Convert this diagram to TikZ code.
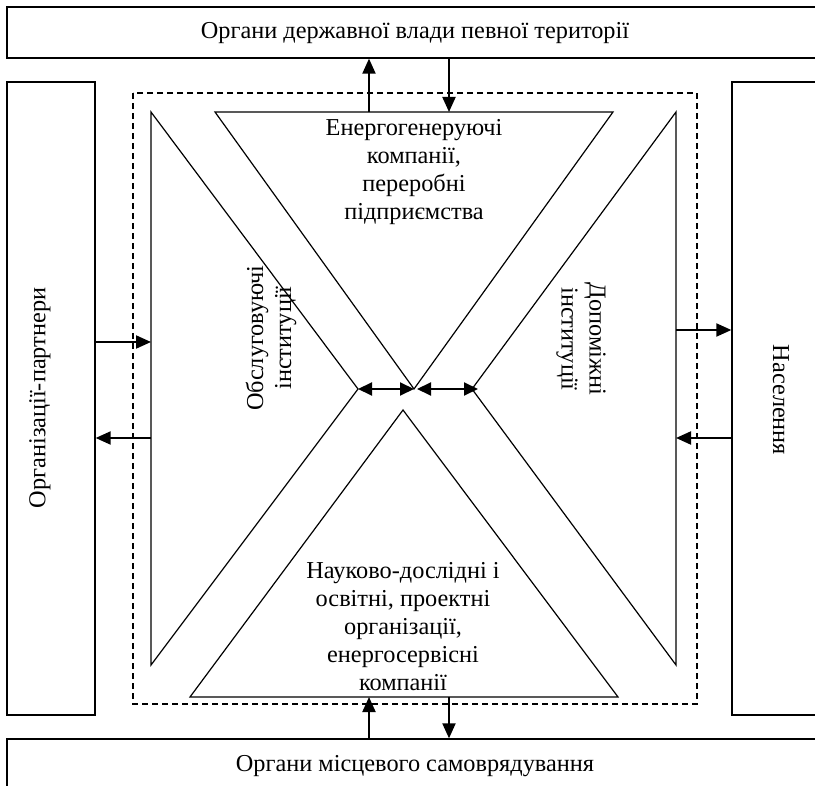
\documentclass[tikz,border=0pt]{standalone}
\usepackage{fontspec}
\setmainfont{Liberation Serif}
\usetikzlibrary{arrows.meta}
\begin{document}
\begin{tikzpicture}[x=1pt,y=-1pt]
\tikzset{
  frame/.style={draw,line width=1.3pt,inner sep=0pt},
  lbl/.style={font=\fontsize{24.3}{28}\selectfont, align=center, inner sep=0pt},
  tri/.style={draw,line width=1.2pt,line join=miter},
  conn/.style={line width=2pt,-{Triangle[length=15pt,width=13pt]}},
  bconn/.style={line width=2pt,{Triangle[length=14pt,width=13pt]}-{Triangle[length=14pt,width=13pt]}},
  dashbox/.style={draw,line width=1.3pt,dash pattern=on 6pt off 4pt}
}
\useasboundingbox (0,0) rectangle (815,786);
\clip (0,0) rectangle (815,786);
\fill[white] (0,0) rectangle (815,786);

% outer boxes
\node[frame,minimum width=816pt,minimum height=51pt] (topbox) at (415,32.5) {};
\node[lbl] (toptext) at (415,33) {Органи державної влади певної території};
\node[frame,minimum width=88pt,minimum height=633pt] (leftbox) at (51,398.5) {};
\node[lbl,rotate=90] (lefttext) at (40,398) {Організації-партнери};
\node[frame,minimum width=100pt,minimum height=633pt] (rightbox) at (782,398.5) {};
\node[lbl,rotate=-90] (righttext) at (781,400) {Населення};
\node[frame,minimum width=816pt,minimum height=60pt] (botbox) at (415,769) {};
\node[lbl] (bottext) at (415,766) {Органи місцевого самоврядування};

% dashed frame
\draw[dashbox] (133,93) rectangle (697,704);

% triangles
\coordinate (L1) at (151,112); \coordinate (L2) at (151,665); \coordinate (La) at (358,389);
\coordinate (T1) at (215,112); \coordinate (T2) at (613,112); \coordinate (Ta) at (414,389);
\coordinate (R1) at (676,112); \coordinate (R2) at (676,665); \coordinate (Ra) at (472,389);
\coordinate (B1) at (190,697); \coordinate (B2) at (618,697); \coordinate (Ba) at (403,410);
\draw[tri] (L1) -- (La) -- (L2) -- cycle;
\draw[tri] (T1) -- (T2) -- (Ta) -- cycle;
\draw[tri] (R1) -- (Ra) -- (R2) -- cycle;
\draw[tri] (B1) -- (B2) -- (Ba) -- cycle;

% texts inside
\node[lbl] (toptri) at (414,172) {Енергогенеруючі\\компанії,\\переробні\\підприємства};
\node[lbl] (bottri) at (403,627) {Науково-дослідні і\\освітні, проектні\\організації,\\енергосервісні\\компанії};
\node[lbl,rotate=90] (lefttri) at (271,338) {Обслуговуючі\\інституції};
\node[lbl,rotate=-90] (righttri) at (581,339) {Допоміжні\\інституції};

% connector end points
\coordinate (tu) at (369,112); \coordinate (td) at (449,112);
\coordinate (li) at (151,342); \coordinate (lo) at (151,438);
\coordinate (ro) at (676,330); \coordinate (ri) at (676,438);
\coordinate (bu) at (369,697); \coordinate (bd) at (449,697);
\coordinate (Tb) at (417,389); \coordinate (Rb) at (478,389);

% connectors
\draw[conn] (tu) -- (tu |- topbox.south);
\draw[conn] (td |- topbox.south) -- (td);
\draw[conn] (li -| leftbox.east) -- (li);
\draw[conn] (lo) -- (lo -| leftbox.east);
\draw[conn] (ro) -- (ro -| rightbox.west);
\draw[conn] (ri -| rightbox.west) -- (ri);
\draw[conn] (bu |- botbox.north) -- (bu);
\draw[conn] (bd) -- (bd |- botbox.north);
\draw[bconn] (La) -- (Ta);
\draw[bconn] (Tb) -- (Rb);
\end{tikzpicture}
\end{document}
